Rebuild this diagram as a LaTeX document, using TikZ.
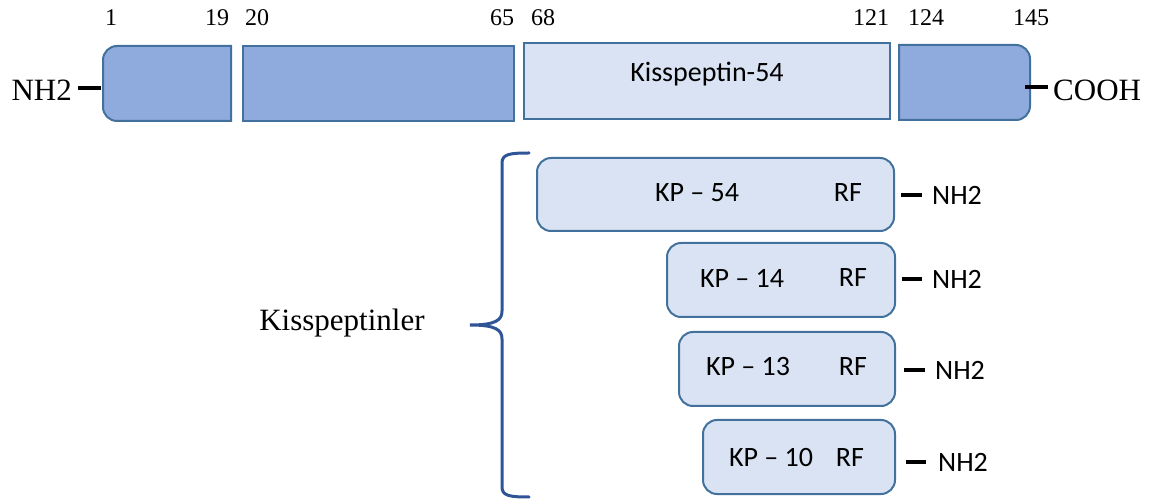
\documentclass[tikz,border=0pt]{standalone}
\usepackage{fontspec}
\setmainfont{Liberation Serif}
\newfontfamily\calfont[Ligatures=TeX]{Carlito}
\definecolor{darkfill}{HTML}{8FAADC}
\definecolor{lightfill}{HTML}{DAE3F3}
\definecolor{edge}{HTML}{41719C}
\definecolor{bracecol}{HTML}{2F5597}
\begin{document}
\begin{tikzpicture}[x=1pt,y=1pt,
  boxbase/.style={rectangle, outer sep=0pt, inner sep=0pt},
  boxline/.style={draw=edge, line width=2pt},
  kpbox/.style={boxbase, draw=edge, line width=2pt, fill=lightfill, rounded corners=14pt},
  numlbl/.style={font=\fontsize{24}{28}\selectfont, inner sep=0pt},
  serifbig/.style={font=\fontsize{31}{36}\selectfont, inner sep=0pt},
  callbl/.style={font=\calfont\fontsize{28}{32}\selectfont, inner sep=0pt},
  dashline/.style={line width=3.5pt}
]
\useasboundingbox (0,0) rectangle (1157,501);

% top row
\node[boxbase, minimum width=128pt, minimum height=75pt] (b1) at (167,417.5) {};
\draw[boxline, fill=darkfill] (b1.north east) -- ([xshift=14pt]b1.north west)
  arc[start angle=90, end angle=180, radius=14pt] -- ([yshift=14pt]b1.south west)
  arc[start angle=180, end angle=270, radius=14pt] -- (b1.south east) -- cycle;
\node[boxbase, draw=edge, line width=2pt, fill=darkfill, minimum width=271pt, minimum height=75pt] (b2) at (378.5,417.5) {};
\node[boxbase, draw=edge, line width=2pt, fill=lightfill, minimum width=366pt, minimum height=76pt] (b3) at (707,420) {};
\node[callbl] at (707,427) {Kisspeptin-54};
\node[boxbase, minimum width=131pt, minimum height=75pt] (b4) at (964.5,418.5) {};
\draw[boxline, fill=darkfill] (b4.north west) -- ([xshift=-14pt]b4.north east)
  arc[start angle=90, end angle=0, radius=14pt] -- ([yshift=14pt]b4.south east)
  arc[start angle=0, end angle=-90, radius=14pt] -- (b4.south west) -- cycle;

% numbers
\node[numlbl] (n1) at (111,483) {1};
\node[numlbl] (n19) at (217,483) {19};
\node[numlbl] (n20) at (257,483) {20};
\node[numlbl] (n65) at (502,483) {65};
\node[numlbl] (n68) at (543,483) {68};
\node[numlbl] (n121) at (871,483) {121};
\node[numlbl] (n124) at (926,483) {124};
\node[numlbl] (n145) at (1031,483) {145};

% termini
\node[serifbig, anchor=east] (nl) at (72,411) {NH2};
\draw[dashline, shorten <=6pt, shorten >=2pt] ([yshift=2pt]nl.east) -- ([yshift=2pt]nl.east -| b1.west);
\node[serifbig, anchor=west] (cooh) at (1053,411) {COOH};
\draw[dashline, shorten <=-5pt, shorten >=5pt] ([yshift=3pt]cooh.west -| b4.east) -- ([yshift=3pt]cooh.west);

% lower boxes
\node[kpbox, minimum width=357pt, minimum height=73pt] (kp54) at (715.5,306.5) {};
\node[callbl] (t54) at (697,308) {KP – 54};
\node[callbl] (r54) at (848,308) {RF};
\node[kpbox, minimum width=228pt, minimum height=74pt] (kp14) at (781,221) {};
\node[callbl] (t14) at (742,223) {KP – 14};
\node[callbl] (r14) at (853,223) {RF};
\node[kpbox, minimum width=216pt, minimum height=74pt] (kp13) at (787,132) {};
\node[callbl] (t13) at (748,134) {KP – 13};
\node[callbl] (r13) at (853,134) {RF};
\node[kpbox, minimum width=192pt, minimum height=74pt] (kp10) at (799,44) {};
\node[callbl] (t10) at (771,43) {KP – 10};
\node[callbl] (r10) at (850,43) {RF};

\node[callbl, anchor=west] (h54) at (932,306) {NH2};
\node[callbl, anchor=west] (h14) at (932,222) {NH2};
\node[callbl, anchor=west] (h13) at (935,131) {NH2};
\node[callbl, anchor=west] (h10) at (938,39) {NH2};
\draw[dashline, shorten <=7pt, shorten >=10pt] (h54.west -| kp54.east) -- (h54.west);
\draw[dashline, shorten <=7pt, shorten >=10pt] (h14.west -| kp14.east) -- (h14.west);
\draw[dashline, shorten <=9pt, shorten >=10pt] (h13.west -| kp13.east) -- (h13.west);
\draw[dashline, shorten <=11pt, shorten >=12pt] (h10.west -| kp10.east) -- (h10.west);

% brace
\coordinate (bt) at (529,348);
\coordinate (tip) at (470,176);
\coordinate (bb) at (529,4);
\draw[bracecol, line width=3pt, line cap=round]
  (bt) .. controls (510,348) and (502,347) .. (502,338) -- (502,190)
  .. controls (502,181) and (496,176) .. (tip)
  .. controls (496,176) and (502,171) .. (502,162) -- (502,14)
  .. controls (502,5) and (510,4) .. (bb);
\node[serifbig] (kl) at (342,178) {Kisspeptinler};
\end{tikzpicture}
\end{document}
